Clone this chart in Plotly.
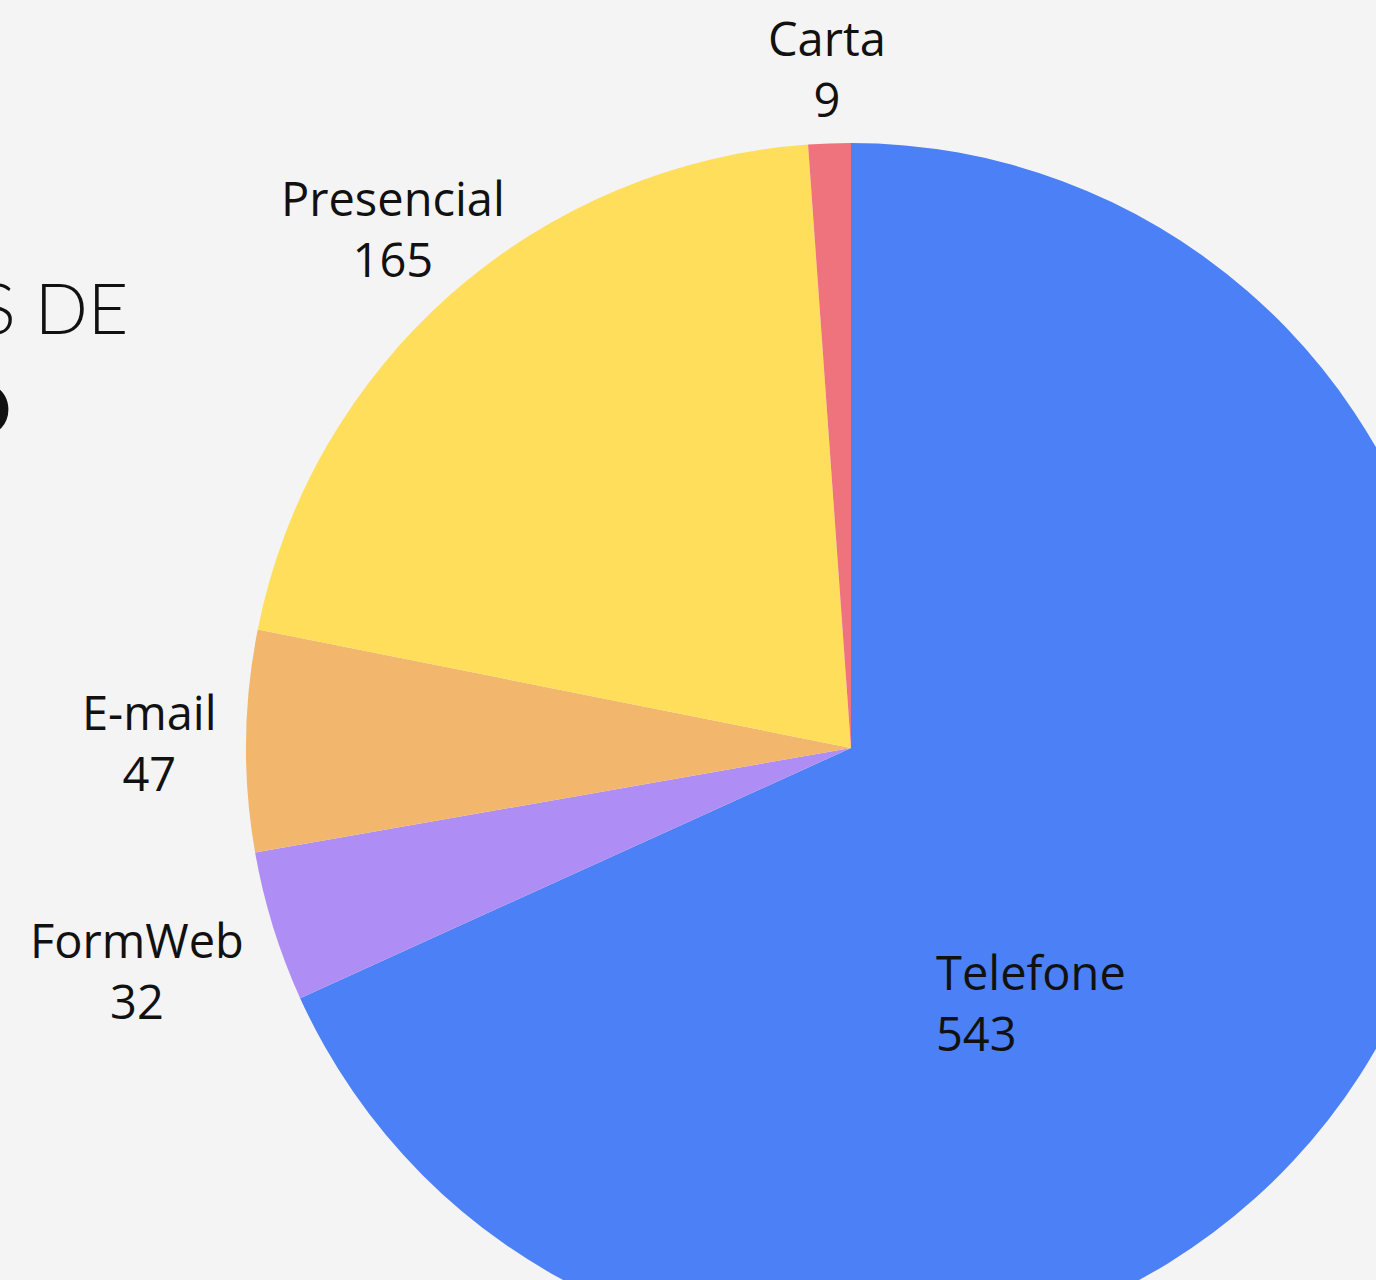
import plotly.graph_objects as go

# Service channels and number of contacts per channel
canais = ["Telefone", "FormWeb", "E-mail", "Presencial", "Carta"]
contatos = [543, 32, 47, 165, 9]
cores = ["#4C80F6", "#AE8DF4", "#F2B76C", "#FFDE5C", "#EE737C"]

# Label placement (pixel position of each label block, anchor, alignment)
pos_rotulos = {
    "Telefone": (934, 1003, "left"),
    "FormWeb": (137, 970, "center"),
    "E-mail": (149, 742, "center"),
    "Presencial": (393, 229, "center"),
    "Carta": (827, 68, "center"),
}

W, H = 1460, 1357
CX, CY, R = 851, 748, 605
BG = "#F4F4F4"
FONT = "Open Sans"
INK = "#111111"


def px(x):
    return x / W


def py(y):
    return 1 - y / H


fig = go.Figure(
    go.Pie(
        labels=canais,
        values=contatos,
        sort=False,
        direction="clockwise",
        rotation=0,
        marker=dict(colors=cores, line=dict(width=0)),
        textinfo="none",
        hoverinfo="label+value+percent",
        showlegend=False,
        domain=dict(x=[px(CX - R), px(CX + R)], y=[py(CY + R), py(CY - R)]),
    )
)

# Channel name and count next to each slice
for canal, n in zip(canais, contatos):
    x, y, alinh = pos_rotulos[canal]
    fig.add_annotation(
        text=f"{canal}<br>{n}", xref="paper", yref="paper",
        x=px(x), y=py(y), xanchor=alinh, yanchor="middle", align=alinh,
        showarrow=False,
        font=dict(family=FONT, size=47, color=INK),
    )

# Title block at the left side
fig.add_annotation(
    text="CANAIS DE", xref="paper", yref="paper",
    x=px(130), y=py(263), xanchor="right", yanchor="top",
    showarrow=False,
    font=dict(family="Lato", size=70, color=INK, weight=300),
)
fig.add_annotation(
    text="<b>ATENDIMENTO</b>", xref="paper", yref="paper",
    x=px(13), y=py(364), xanchor="right", yanchor="top",
    showarrow=False,
    font=dict(family="Lato", size=70, color=INK),
)

fig.update_layout(
    width=W, height=H,
    margin=dict(l=0, r=0, t=0, b=0),
    paper_bgcolor=BG, plot_bgcolor=BG,
)

fig.write_html(
    "out.html",
    post_script="document.documentElement.style.overflow='hidden';document.body.style.overflow='hidden';",
)
